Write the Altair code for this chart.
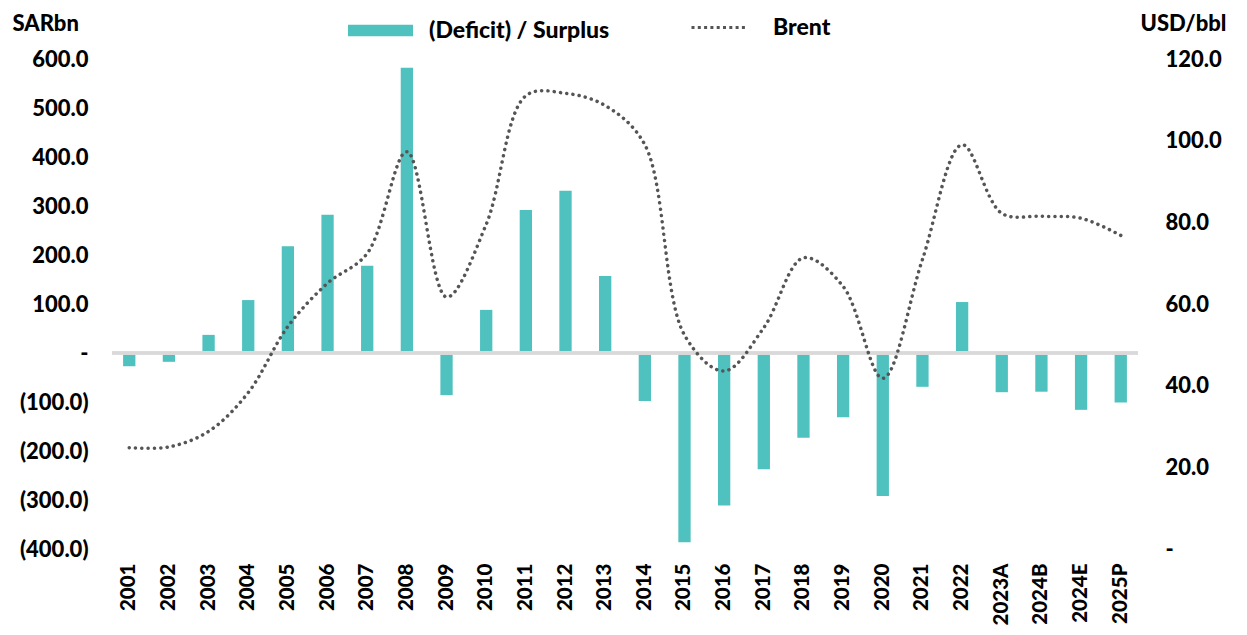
import altair as alt
import pandas as pd

years = ["2001","2002","2003","2004","2005","2006","2007","2008","2009","2010",
         "2011","2012","2013","2014","2015","2016","2017","2018","2019","2020",
         "2021","2022","2023A","2024B","2024E","2025P"]
balance = [-27, -18, 37, 108, 218, 282, 178, 582, -86, 88,
           292, 331, 157, -98, -386, -311, -237, -173, -131, -292,
           -69, 104, -80, -79, -116, -101]
brent = [24.8, 25.0, 28.8, 38.3, 54.5, 65.1, 72.4, 97.3, 61.7, 79.5,
         111.0, 111.6, 108.6, 99.0, 52.4, 43.6, 54.2, 71.3, 64.3, 41.8,
         70.9, 99.0, 82.2, 81.5, 81.0, 76.8]

df = pd.DataFrame({"year": years, "balance": balance, "brent": brent,
                   "s1": "(Deficit) / Surplus", "s2": "Brent"})

FONT = "Lato"
TEAL = "#4FC1BF"
GREY = "#555555"

x = alt.X("year:N", sort=years, title=None,
          scale=alt.Scale(paddingInner=0.69, paddingOuter=0.28),
          axis=alt.Axis(labelAngle=-90, labelPadding=14, domain=False, ticks=False,
                        labelFontSize=20.5))

left_expr = ("datum.value == 0 ? '-\u00a0\u00a0\u00a0\u00a0\u00a0' : (datum.value < 0 ? '(' + format(-datum.value, '.1f') + ')' : format(datum.value, '.1f'))")
right_expr = "datum.value == 0 ? '-' : format(datum.value, '.1f')"

yleft = alt.Scale(domain=[-400, 600], nice=False)

rule = alt.Chart(df).mark_rule(color="#D9D9D9", strokeWidth=2.5).encode(
    y=alt.datum(0, scale=yleft)
)

bars = alt.Chart(df).mark_bar(color=TEAL).encode(
    x=x,
    y=alt.Y("balance:Q", scale=yleft,
            axis=alt.Axis(values=list(range(-400, 601, 100)), labelExpr=left_expr,
                          domain=False, ticks=False, grid=False, labelPadding=24,
                          title="SARbn", titleAngle=0, titleAlign="left", titleBaseline="middle",
                          titleX=-100, titleY=-36)),
    fill=alt.Fill("s1:N", scale=alt.Scale(domain=["(Deficit) / Surplus"], range=[TEAL]),
                  legend=alt.Legend(title=None, orient="none", legendX=236, legendY=-61,
                                    symbolType="M-1,-0.18L1,-0.18L1,0.18L-1,0.18Z",
                                    symbolSize=4225, symbolStrokeWidth=0, labelOffset=16,
                                    labelLimit=400, padding=0))
)

left_layer = alt.layer(bars, rule)

line = alt.Chart(df).mark_line(strokeWidth=3.5, strokeDash=[0.1, 6.2], strokeCap="round",
                               interpolate="catmull-rom").encode(
    x=x,
    y=alt.Y("brent:Q", scale=alt.Scale(domain=[0, 120], nice=False),
            axis=alt.Axis(orient="right", values=list(range(0, 121, 20)), labelExpr=right_expr,
                          domain=False, ticks=False, grid=False, labelPadding=27,
                          title="USD/bbl", titleAngle=0, titleAlign="left", titleBaseline="middle",
                          titleX=2, titleY=-36)),
    stroke=alt.Stroke("s2:N", scale=alt.Scale(domain=["Brent"], range=[GREY]),
                      legend=alt.Legend(title=None, orient="none", legendX=578, legendY=-61,
                                        symbolType="stroke", symbolSize=3136,
                                        symbolStrokeWidth=3, symbolDash=[3, 3.3],
                                        labelOffset=24, labelLimit=400, padding=0))
)

chart = alt.layer(left_layer, line).resolve_scale(y="independent", fill="independent", stroke="independent").properties(
    width=1026, height=490,
    autosize=alt.AutoSizeParams(type="none"),
    padding={"left": 104, "top": 51, "right": 100, "bottom": 80},
).configure_view(stroke=None).configure_axis(
    labelFont=FONT, labelFontWeight=900, labelFontSize=22, labelColor="#000000",
    titleFont=FONT, titleFontWeight=900, titleFontSize=22, titleColor="#000000",
).configure_legend(
    labelFont=FONT, labelFontWeight=900, labelFontSize=23, labelColor="#000000",
    symbolStrokeColor=GREY,
)

chart.save("out.html", embed_options={"renderer": "svg", "actions": False})
